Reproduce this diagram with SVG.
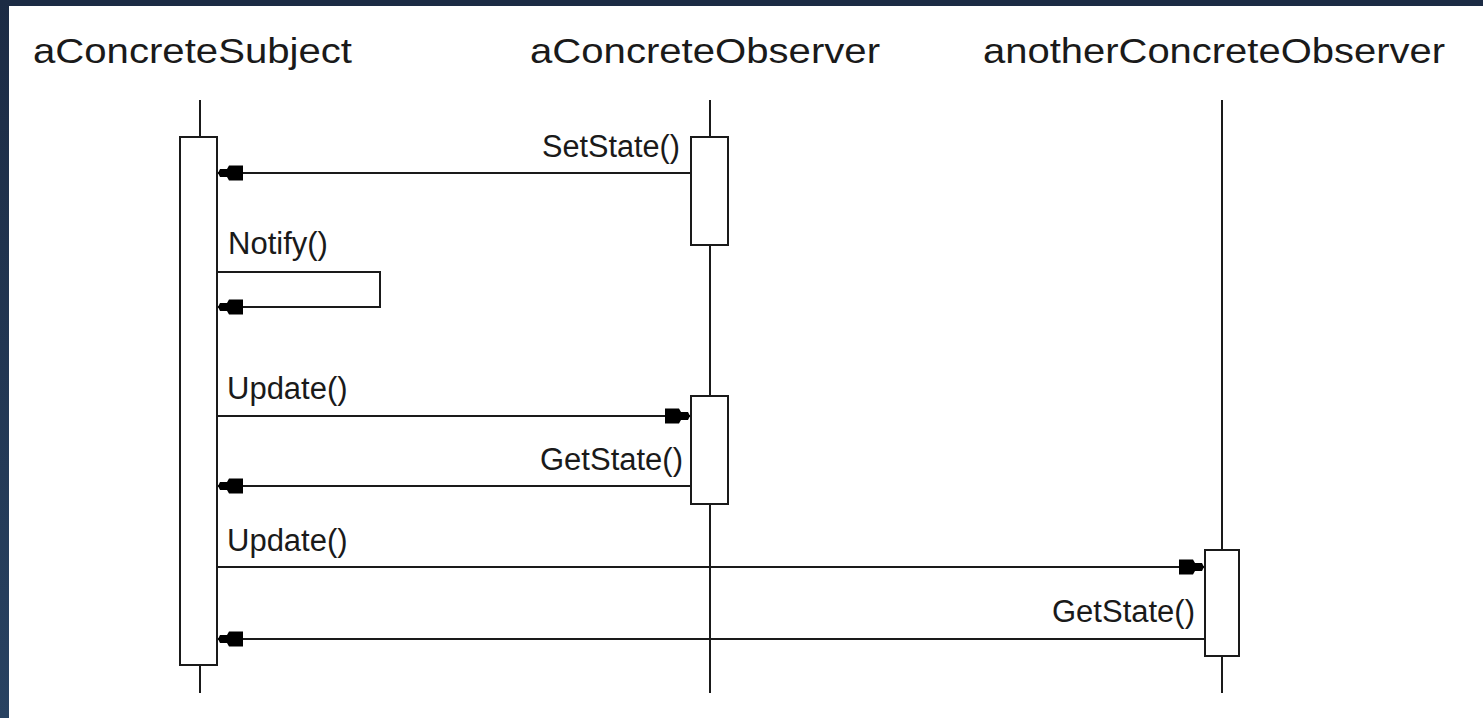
<svg xmlns="http://www.w3.org/2000/svg" width="1483" height="718" viewBox="0 0 1483 718">
<style>
.title{font-family:"Liberation Sans",Arial,sans-serif;font-size:35px;fill:#1a1a1a}
.lbl{font-family:"Liberation Sans",Arial,sans-serif;font-size:31px;fill:#1a1a1a}
.life{stroke:#1a1a1a;stroke-width:2;fill:none}
.act{stroke:#1a1a1a;stroke-width:2;fill:#fff}
.msg{stroke:#1a1a1a;stroke-width:2;fill:none}
</style>
<defs>
<linearGradient id="side" x1="0" y1="0" x2="0" y2="1">
<stop offset="0" stop-color="#1c2b44"/>
<stop offset="1" stop-color="#284261"/>
</linearGradient>
<marker id="ah" viewBox="-27 -9 28 18" refX="0" refY="0" markerWidth="28" markerHeight="18" markerUnits="userSpaceOnUse" orient="auto">
<path d="M0,0 L-2,-4 L-9,-4 L-11,-7.5 L-25,-7.5 L-25,7.5 L-11,7.5 L-9,4 L-2,4 Z" fill="#000"/>
</marker>
</defs>
<rect x="0" y="0" width="1483" height="718" fill="#fff"/>
<rect x="0" y="0" width="1483" height="6" fill="#1c2b44"/>
<rect x="0" y="0" width="9" height="718" fill="url(#side)"/>

<g id="aConcreteSubject">
<text class="title" x="33" y="63" textLength="319" lengthAdjust="spacingAndGlyphs">aConcreteSubject</text>
<line class="life" x1="200" y1="100" x2="200" y2="693"/>
<rect class="act" x="180" y="137" width="37" height="528"/>
</g>

<g id="aConcreteObserver">
<text class="title" x="530" y="63" textLength="350" lengthAdjust="spacingAndGlyphs">aConcreteObserver</text>
<line class="life" x1="710" y1="100" x2="710" y2="693"/>
<rect class="act" x="691" y="137" width="37" height="108"/>
<rect class="act" x="691" y="396" width="37" height="108"/>
</g>

<g id="anotherConcreteObserver">
<text class="title" x="983" y="63" textLength="462" lengthAdjust="spacingAndGlyphs">anotherConcreteObserver</text>
<line class="life" x1="1222" y1="100" x2="1222" y2="693"/>
<rect class="act" x="1205" y="550" width="34" height="106"/>
</g>

<g id="connectors">
<line class="msg" x1="691" y1="173" x2="218" y2="173" marker-end="url(#ah)"/>
<text class="lbl" x="680" y="157" text-anchor="end" textLength="138" lengthAdjust="spacingAndGlyphs">SetState()</text>

<polyline class="msg" points="217,272 380,272 380,307 218,307" marker-end="url(#ah)"/>
<text class="lbl" x="228" y="254">Notify()</text>

<line class="msg" x1="217" y1="416" x2="690" y2="416" marker-end="url(#ah)"/>
<text class="lbl" x="227" y="399">Update()</text>

<line class="msg" x1="691" y1="486" x2="218" y2="486" marker-end="url(#ah)"/>
<text class="lbl" x="683" y="470" text-anchor="end">GetState()</text>

<line class="msg" x1="217" y1="567" x2="1204" y2="567" marker-end="url(#ah)"/>
<text class="lbl" x="227" y="551">Update()</text>

<line class="msg" x1="1205" y1="639" x2="218" y2="639" marker-end="url(#ah)"/>
<text class="lbl" x="1195" y="622" text-anchor="end">GetState()</text>
</g>
</svg>
